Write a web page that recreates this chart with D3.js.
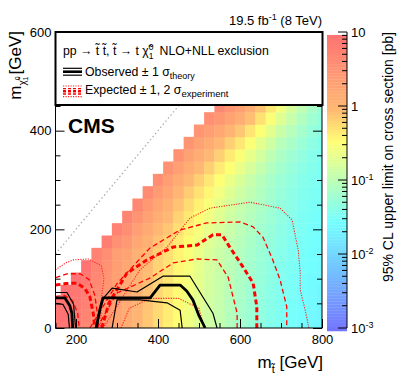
<!DOCTYPE html>
<html><head><meta charset="utf-8">
<script src="https://cdn.jsdelivr.net/npm/d3@7"></script>
<style>
body{margin:0;background:#fff}
svg{font-family:"Liberation Sans",Arial,sans-serif}
</style></head><body>
<svg width="399" height="383"></svg>
<script>
// grid of the scan (GeV)
var mStop = [150,175,200,225,250,275,300,325,350,375,400,425,450,475,500,525,550,575,600,625,650,675,700,725,750,775,800];
var mLsp = [0,25,50,75,100,125,150,175,200,225,250,275,300,325,350,375,400,425,450];
var binW = 25;
// 95% CL upper limit (pb), one column per mStop, starting at mLsp = 0
var limitCols = [
  [12,13,14],
  [9,9.7,10.5,12],
  [7,7.6,8.3,9,10],
  [5,5.5,6.2,7,8.2,10],
  [3.5,3.8,4.1,4.5,4.9,5.4,6.0],
  [2.6,2.75,2.9,3.1,3.35,3.65,4.0,7.0],
  [1.9,1.97,2.05,2.13,2.22,2.35,2.5,3.8,6.0],
  [1.4,1.47,1.55,1.63,1.72,1.85,2.0,2.8,4.0,5.5],
  [1.1,1.13,1.16,1.19,1.22,1.26,1.3,1.7,2.3,3.3,5.0],
  [0.8,0.82,0.85,0.88,0.92,0.96,1.0,1.25,1.6,2.1,2.9,4.5],
  [0.6,0.61,0.625,0.64,0.66,0.68,0.7,0.85,1.05,1.35,1.8,2.6,4.0],
  [0.45,0.46,0.475,0.49,0.51,0.53,0.55,0.65,0.8,1.0,1.3,1.8,2.5,3.6],
  [0.35,0.36,0.37,0.38,0.39,0.405,0.42,0.48,0.57,0.68,0.85,1.1,1.5,2.3,3.5],
  [0.27,0.277,0.284,0.29,0.3,0.31,0.32,0.36,0.42,0.5,0.6,0.76,1.0,1.45,2.1,3.2],
  [0.2,0.205,0.21,0.217,0.224,0.232,0.24,0.27,0.31,0.36,0.43,0.54,0.7,1.0,1.45,2.1,3.2],
  [0.15,0.154,0.158,0.163,0.168,0.174,0.18,0.2,0.23,0.27,0.32,0.4,0.5,0.7,1.0,1.5,2.4,4.0],
  [0.12,0.123,0.126,0.13,0.133,0.137,0.14,0.155,0.175,0.2,0.23,0.28,0.35,0.48,0.7,1.05,1.7,3.0,5],
  [0.09,0.093,0.096,0.1,0.103,0.107,0.11,0.12,0.135,0.15,0.17,0.2,0.25,0.34,0.48,0.72,1.15,2.0,3.2],
  [0.07,0.073,0.076,0.079,0.082,0.086,0.09,0.098,0.107,0.118,0.13,0.15,0.18,0.24,0.33,0.5,0.8,1.4,2.2],
  [0.058,0.06,0.062,0.064,0.067,0.07,0.072,0.078,0.085,0.093,0.103,0.115,0.13,0.17,0.23,0.33,0.52,0.9,1.4],
  [0.048,0.05,0.052,0.054,0.056,0.058,0.06,0.064,0.07,0.076,0.083,0.091,0.1,0.125,0.16,0.22,0.34,0.55,0.85],
  [0.04,0.041,0.043,0.044,0.046,0.048,0.05,0.053,0.056,0.06,0.065,0.07,0.075,0.09,0.11,0.15,0.22,0.33,0.5],
  [0.035,0.036,0.037,0.038,0.039,0.04,0.042,0.044,0.047,0.05,0.053,0.056,0.06,0.07,0.082,0.1,0.14,0.2,0.28],
  [0.03,0.031,0.032,0.033,0.034,0.035,0.036,0.038,0.04,0.042,0.045,0.047,0.05,0.056,0.064,0.077,0.098,0.13,0.17],
  [0.027,0.028,0.029,0.0295,0.03,0.031,0.032,0.033,0.035,0.036,0.038,0.04,0.042,0.046,0.051,0.059,0.072,0.09,0.115],
  [0.024,0.025,0.026,0.0265,0.027,0.028,0.029,0.03,0.031,0.032,0.034,0.0355,0.037,0.039,0.042,0.047,0.055,0.065,0.078],
  [0.022,0.023,0.0235,0.024,0.025,0.026,0.027,0.028,0.029,0.03,0.0315,0.033,0.034,0.035,0.037,0.04,0.044,0.05,0.058]
];

// exclusion contours [mStop, mLsp]
var observed = [[249,0],[259,40],[266,61],[300,61],[381,61],[405,87],[454,87],[470,75],[485,57],[500,25],[515,0]];
var observedLeft = [[150,61],[173,61],[185,45],[190,30],[192,0]];
var obsTheoryUp = [[251,0],[263,57],[288,81],[349,73],[412,105],[478,105],[534,30],[544,0]];
var obsTheoryUpLeft = [[150,72],[178,72],[194,48],[199,0]];
var obsTheoryDown = [[288,0],[300,57],[356,57],[422,51],[454,36],[459,0]];
var obsTheoryDownLeft = [[150,50],[168,48],[181,28],[184,0]];
var expected = [[263,0],[280,50],[324,111],[373,138],[437,164],[495,168],[534,189],[556,189],[575,164],[607,124],[632,91],[641,43],[641,0]];
var expectedLeft = [[150,87],[175,90],[202,91],[222,80],[234,63],[242,30],[246,0]];
var expUp1 = [[234,0],[300,90],[380,162],[454,199],[519,213],[600,215],[632,205],[656,184],[680,138],[698,97],[714,43],[714,0]];
var expUp1Left = [[150,102],[180,110],[210,110],[232,98],[246,66],[252,30],[255,0]];
var expDown1 = [[251,0],[300,71],[380,101],[437,132],[495,140],[544,138],[571,103],[583,63],[593,30],[593,0]];
var expDown1Left = [[150,64],[172,66],[192,55],[204,30],[208,0]];
var expUp2 = [[266,0],[356,118],[422,164],[478,223],[527,243],[624,255],[698,243],[727,219],[742,158],[747,111],[747,77],[759,36],[768,0]];
var expUp2Left = [[150,118],[175,132],[193,138],[230,140],[262,126],[268,100],[262,60],[260,0]];
var expDown2 = [[310,0],[330,40],[380,60],[450,60],[500,40],[513,0]];
var diagonal = [[150,150],[600,600]];

// colour palette stops (log10 of the limit)
var paletteLog = [1, 0, -0.45, -1.54, -3];
var paletteCol = ["#ff7373", "#ffb873", "#ffff73", "#73ffff", "#7373ff"];

var svg = d3.select("svg");
var x = d3.scaleLinear().domain([150, 800]).range([55.5, 322]);
var y = d3.scaleLinear().domain([0, 600]).range([328, 32]);
var z = d3.scaleLog().domain([0.001, 10]).range([328, 32]);
var color = d3.scaleLinear()
    .domain(paletteLog)
    .range(paletteCol)
    .interpolate(d3.interpolateRgb)
    .clamp(true);
function fcolor(v) { return color(Math.log10(v)); }

svg.append("clipPath").attr("id", "clip")
  .append("rect").attr("x", 55.5).attr("y", 32).attr("width", 322 - 55.5).attr("height", 328 - 32);

var plot = svg.append("g").attr("clip-path", "url(#clip)");

var cells = [];
mStop.forEach(function(ms, i) {
    limitCols[i].forEach(function(v, j) { cells.push({ms: ms, ml: mLsp[j], v: v}); });
});

plot.selectAll("rect.cell")
    .data(cells)
  .enter().append("rect")
    .attr("class", "cell")
    .attr("x", function(d) { return x(d.ms - binW / 2); })
    .attr("y", function(d) { return y(d.ml + binW / 2); })
    .attr("width", function(d) { return x(d.ms + binW / 2) - x(d.ms - binW / 2) + 0.4; })
    .attr("height", function(d) { return y(d.ml - binW / 2) - y(d.ml + binW / 2) + 0.4; })
    .style("fill", function(d) { return fcolor(d.v); });

var line = d3.line()
    .x(function(d) { return x(d[0]); })
    .y(function(d) { return y(d[1]); });

plot.append("path").attr("d", line(diagonal))
    .style("fill", "none").style("stroke", "#aaa").style("stroke-width", 1.2).style("stroke-dasharray", "1.5,2.5");

function contour(pts, stroke, width, dash) {
    plot.append("path").attr("d", line(pts))
        .style("fill", "none").style("stroke", stroke).style("stroke-width", width)
        .style("stroke-dasharray", dash || null).style("stroke-linejoin", "round");
}
contour(expUp2, "#f22", 1.1, "1.2,1.3");
contour(expUp2Left, "#f22", 1.1, "1.2,1.3");
contour(expDown2, "#f22", 1.1, "1.2,1.3");
contour(expUp1, "#f00", 1.3, "5,3");
contour(expUp1Left, "#f00", 1.3, "5,3");
contour(expDown1, "#f00", 1.3, "5,3");
contour(expDown1Left, "#f00", 1.3, "5,3");
contour(expected, "#f00", 3, "5,3");
contour(expectedLeft, "#f00", 3, "5,3");
contour(obsTheoryUp, "#000", 1.2);
contour(obsTheoryUpLeft, "#000", 1.2);
contour(obsTheoryDown, "#000", 1.2);
contour(obsTheoryDownLeft, "#000", 1.2);
contour(observed, "#000", 2.8);
contour(observedLeft, "#000", 2.8);

// axes (ticks inside, mirrored on the right)
var ax = svg.append("g");
function axisStyle(g) {
    g.select(".domain").remove();
    g.selectAll(".tick line").style("stroke", "#000");
    g.selectAll("text").style("font-family", "Liberation Sans, Arial, sans-serif").style("font-size", "13px").style("fill", "#000");
}
ax.append("g").attr("transform", "translate(0,328)")
    .call(d3.axisBottom(x).tickValues([150,250,300,350,450,500,550,650,700,750]).tickSize(-5).tickFormat(""))
    .call(axisStyle);
ax.append("g").attr("transform", "translate(0,328)")
    .call(d3.axisBottom(x).tickValues([200,400,600,800]).tickSize(-9).tickPadding(7).tickFormat(d3.format("d")))
    .call(axisStyle);
ax.append("g").attr("transform", "translate(55.5,0)")
    .call(d3.axisLeft(y).tickValues([50,100,150,250,300,350,450,500,550]).tickSize(-5).tickFormat(""))
    .call(axisStyle);
ax.append("g").attr("transform", "translate(55.5,0)")
    .call(d3.axisLeft(y).tickValues([0,200,400,600]).tickSize(-9).tickPadding(4).tickFormat(d3.format("d")))
    .call(axisStyle);
ax.append("g").attr("transform", "translate(322,0)")
    .call(d3.axisRight(y).tickValues([50,100,150,250,300,350,450,500,550]).tickSize(-5).tickFormat(""))
    .call(axisStyle);
ax.append("g").attr("transform", "translate(322,0)")
    .call(d3.axisRight(y).tickValues([0,200,400,600]).tickSize(-9).tickFormat(""))
    .call(axisStyle);

svg.append("rect").attr("x", 55.5).attr("y", 32).attr("width", 322 - 55.5).attr("height", 328 - 32)
    .style("fill", "none").style("stroke", "#000").style("stroke-width", 1);

// legend
var leg = svg.append("g");
leg.append("rect").attr("x", 55.5).attr("y", 32).attr("width", 267).attr("height", 73)
    .style("fill", "#fff").style("stroke", "#000").style("stroke-width", 2);

var t1 = leg.append("text").attr("x", 63).attr("y", 55).style("font-size", "12.3px");
t1.append("tspan").text("pp \u2192 t\u0303 t\u0303, t\u0303 \u2192 t \u03c7\u0303");
t1.append("tspan").attr("dy", -5).style("font-size", "8.5px").text("0");
t1.append("tspan").attr("dx", -4.7).attr("dy", 9).style("font-size", "8.5px").text("1");
t1.append("tspan").attr("dx", 6).attr("dy", -4).text("NLO+NLL exclusion");

var t2 = leg.append("text").attr("x", 85).attr("y", 76).style("font-size", "12.3px");
t2.append("tspan").text("Observed \u00b1 1 \u03c3");
t2.append("tspan").attr("dy", 3).style("font-size", "9px").text("theory");

var t3 = leg.append("text").attr("x", 85).attr("y", 94).style("font-size", "12.3px");
t3.append("tspan").text("Expected \u00b1 1, 2 \u03c3");
t3.append("tspan").attr("dy", 3).style("font-size", "9.5px").text("experiment");

function legLine(y0, stroke, width, dash) {
    leg.append("line").attr("x1", 63).attr("x2", 82).attr("y1", y0).attr("y2", y0)
        .style("stroke", stroke).style("stroke-width", width).style("stroke-dasharray", dash || null);
}
legLine(68.3, "#000", 1.2);
legLine(71.7, "#000", 2.6);
legLine(75.2, "#000", 1.2);
legLine(86, "#f22", 1.1, "1.2,1.3");
legLine(88.6, "#f00", 1.3, "3,2");
legLine(91.3, "#f00", 2.6, "3,2");
legLine(94, "#f00", 1.3, "3,2");
legLine(96.6, "#f22", 1.1, "1.2,1.3");

svg.append("text").attr("x", 68).attr("y", 133)
    .style("font-size", "21px").style("font-weight", "bold").text("CMS");

var tt = svg.append("text").attr("x", 322).attr("y", 25).attr("text-anchor", "end").style("font-size", "13px");
tt.append("tspan").text("19.5 fb");
tt.append("tspan").attr("dy", -5).style("font-size", "9px").text("-1");
tt.append("tspan").attr("dy", 5).text(" (8 TeV)");

// axis titles
var xt = svg.append("text").attr("x", 323).attr("y", 368).attr("text-anchor", "end").style("font-size", "17px");
xt.append("tspan").text("m");
xt.append("tspan").attr("dy", 5).style("font-size", "11px").text("t\u0303");
xt.append("tspan").attr("dy", -5).text(" [GeV]");

var yt = svg.append("text").attr("transform", "translate(21,31) rotate(-90)").attr("text-anchor", "end").style("font-size", "17px");
yt.append("tspan").text("m");
yt.append("tspan").attr("dy", 5).style("font-size", "10px").text("\u03c7\u0303");
yt.append("tspan").attr("dy", -6).style("font-size", "7px").text("0");
yt.append("tspan").attr("dx", -4).attr("dy", 8).style("font-size", "7px").text("1");
yt.append("tspan").attr("dx", 2).attr("dy", -7).text("[GeV]");

// colour bar
var nStep = 100;
var steps = d3.range(nStep);
var cb = svg.append("g");
cb.selectAll("rect").data(steps).enter().append("rect")
    .attr("x", 327).attr("width", 20)
    .attr("y", function(i) { return z(Math.pow(10, 1 - 4 * (i + 1) / nStep)); })
    .attr("height", (328 - 32) / nStep + 0.3)
    .style("fill", function(i) { return color(1 - 4 * (i + 0.5) / nStep); });

var decades = [10, 1, 0.1, 0.01, 0.001];
var minors = [];
[0.001, 0.01, 0.1, 1].forEach(function(d) { [2,3,4,5,6,7,8,9].forEach(function(k) { minors.push(d * k); }); });
cb.selectAll("line.minor").data(minors).enter().append("line")
    .attr("x1", 342).attr("x2", 347)
    .attr("y1", function(d) { return z(d); }).attr("y2", function(d) { return z(d); })
    .style("stroke", "#000").style("stroke-width", 1);
cb.selectAll("line.major").data(decades).enter().append("line")
    .attr("x1", 338).attr("x2", 347)
    .attr("y1", function(d) { return z(d); }).attr("y2", function(d) { return z(d); })
    .style("stroke", "#000").style("stroke-width", 1);
cb.append("line").attr("x1", 347).attr("x2", 347).attr("y1", 32).attr("y2", 328).style("stroke", "#000");

var cbLabels = [{v: 10, b: "10", e: ""}, {v: 1, b: "1", e: ""}, {v: 0.1, b: "10", e: "-1"}, {v: 0.01, b: "10", e: "-2"}, {v: 0.001, b: "10", e: "-3"}];
cbLabels.forEach(function(d) {
    var t = cb.append("text").attr("x", 351).attr("y", z(d.v) + 5).style("font-size", "13px");
    t.append("tspan").text(d.b);
    if (d.e) t.append("tspan").attr("dy", -5).style("font-size", "9px").text(d.e);
});

svg.append("text").attr("transform", "translate(393,32) rotate(-90)").attr("text-anchor", "end")
    .style("font-size", "14px").text("95% CL upper limit on cross section [pb]");
</script>
</body></html>
